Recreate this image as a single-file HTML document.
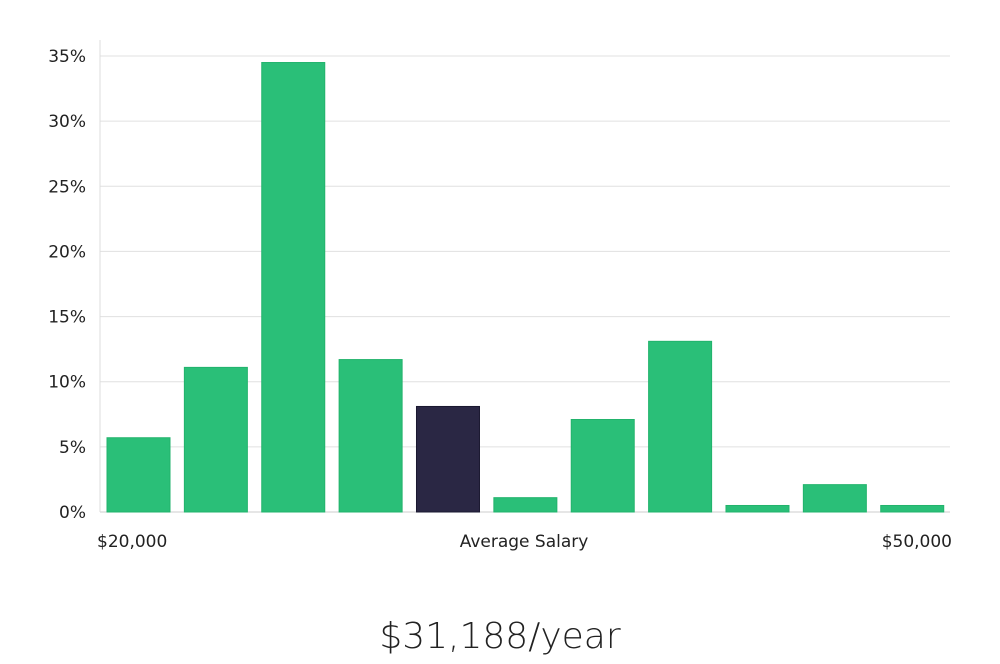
<!DOCTYPE html>
<html><head><meta charset="utf-8"><style>
body{margin:0;background:#fff;width:1000px;height:660px;overflow:hidden;font-family:"DejaVu Sans","Liberation Sans",sans-serif;}
svg text{font-family:"DejaVu Sans","Liberation Sans",sans-serif;fill:#222;}
</style></head><body>
<svg id="chart" width="1000" height="660" xmlns="http://www.w3.org/2000/svg">
<g id="grid"></g>
<line x1="100" y1="40" x2="100" y2="512" stroke="#ddd"/>
<g id="bars"></g>
<text x="97" y="547" font-size="17">$20,000</text>
<text x="524" y="547" font-size="17" text-anchor="middle">Average Salary</text>
<text x="952" y="547" font-size="17" text-anchor="end">$50,000</text>
<text x="500" y="648" font-size="36" text-anchor="middle" style="font-family:'DejaVu Sans','Liberation Sans',sans-serif;font-weight:200">$31,188/year</text>
</svg>
<script>
const values=[5.7,11.1,34.5,11.7,8.1,1.1,7.1,13.1,0.5,2.1,0.5];
const highlight=[false,false,false,false,true,false,false,false,false,false,false];
const ticks=[0,5,10,15,20,25,30,35];
const tickLabels=["0%","5%","10%","15%","20%","25%","30%","35%"];
const NS="http://www.w3.org/2000/svg";
const y0=512,y35=56,xL=100,xR=950;
const y=v=>y0-(v/35)*(y0-y35);
const step=(xR-xL)/values.length;
const x=i=>xL+7+i*step+ (i*0.1);
const g=document.getElementById('grid');
ticks.forEach((t,i)=>{
  const l=document.createElementNS(NS,'line');
  l.setAttribute('x1',xL);l.setAttribute('x2',xR);l.setAttribute('y1',y(t));l.setAttribute('y2',y(t));
  l.setAttribute('stroke',t===0?'#ccc':'#e0e0e0');
  
  
  g.appendChild(l);
  const tx=document.createElementNS(NS,'text');
  tx.setAttribute('x',86);tx.setAttribute('y',y(t)+6);tx.setAttribute('text-anchor','end');tx.setAttribute('font-size','17');
  tx.textContent=tickLabels[i];
  
  
  g.appendChild(tx);
});
const b=document.getElementById('bars');
values.forEach((v,i)=>{
  const r=document.createElementNS(NS,'rect');
  r.setAttribute('x',x(i));r.setAttribute('width',63);
  r.setAttribute('y',y(v));r.setAttribute('height',y0-y(v));
  r.setAttribute('fill',highlight[i]?'#2a2744':'#2abf78');
  r.setAttribute('stroke',highlight[i]?'#1a1830':'#22b36c');
  
  
  b.appendChild(r);
});
</script>
</body></html>
